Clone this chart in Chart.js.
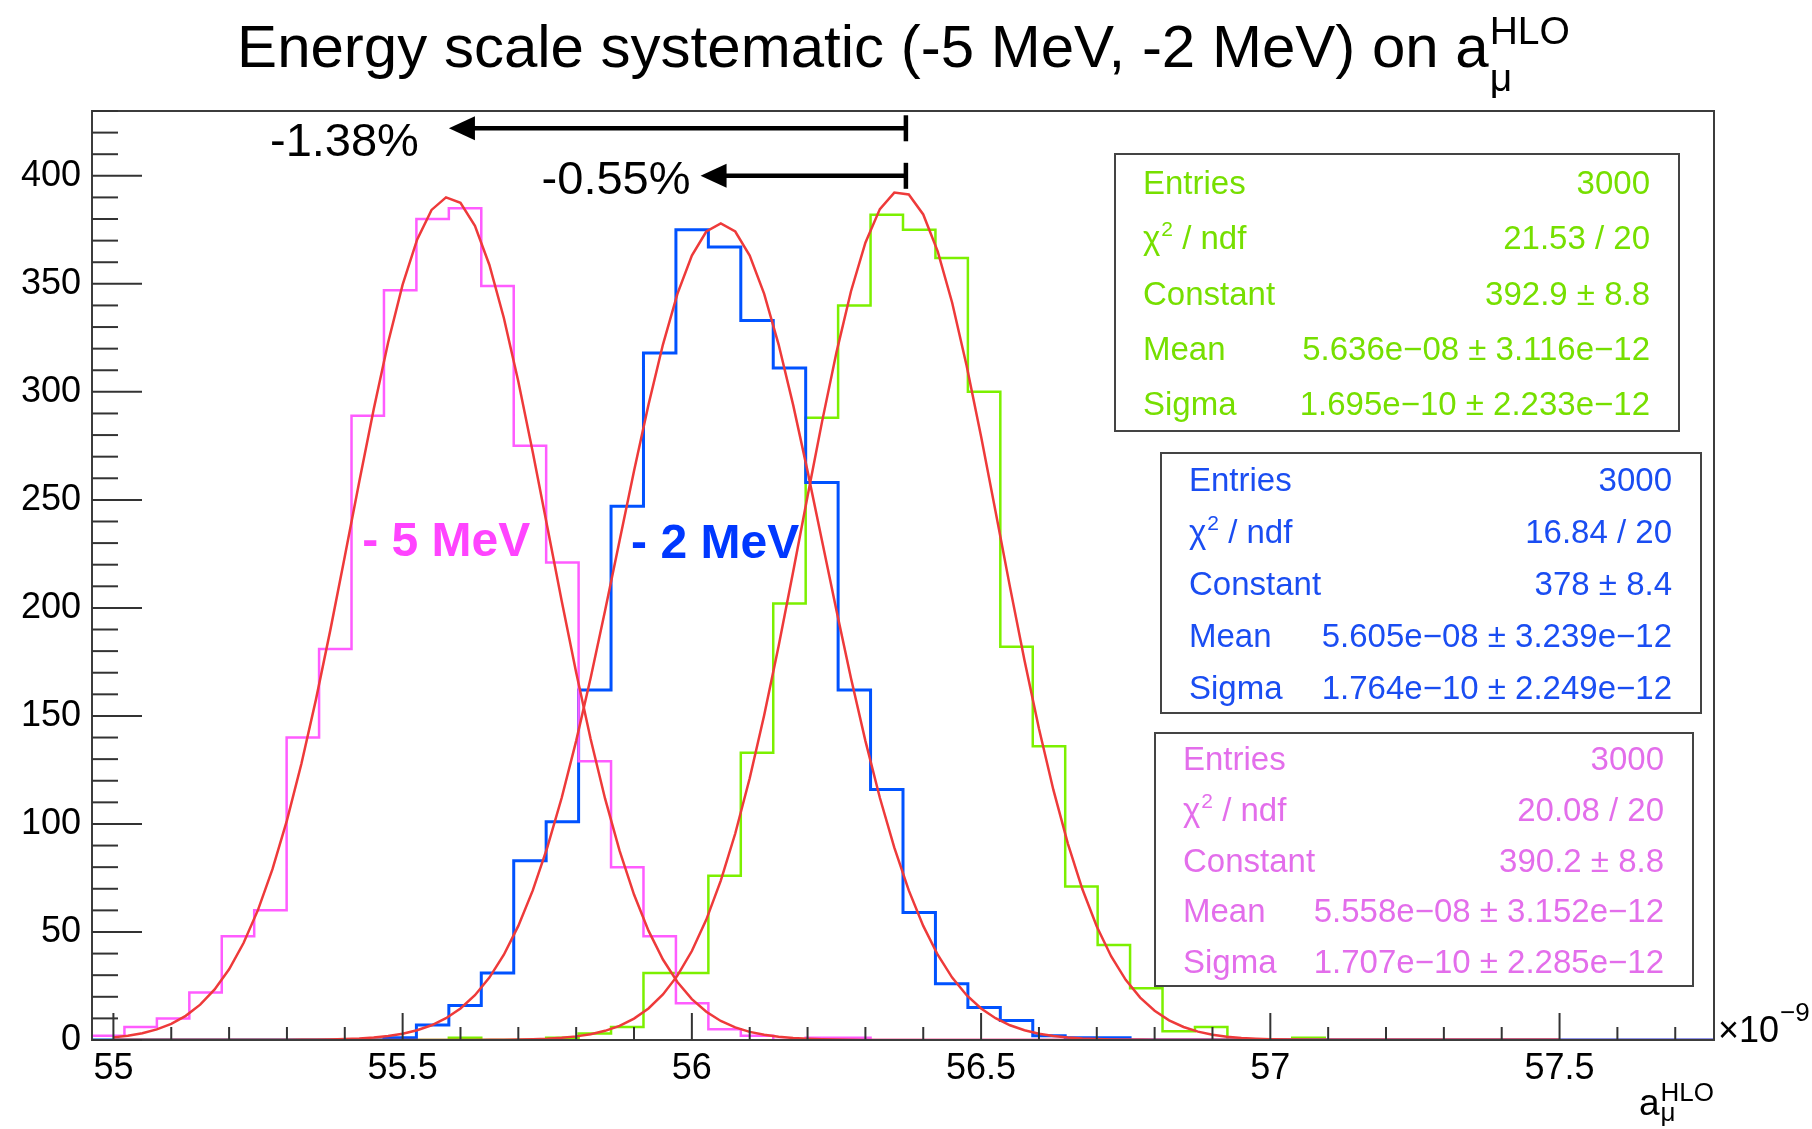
<!DOCTYPE html>
<html lang="en">
<head>
<meta charset="UTF-8">
<title>Energy scale systematic on a_mu HLO</title>
<style>
  html, body { margin: 0; padding: 0; background: #fff; }
  #wrap { width: 1812px; height: 1129px; }
</style>
</head>
<body>
<div id="wrap"><canvas id="chart" width="1812" height="1129"></canvas></div>
<script src="https://cdn.jsdelivr.net/npm/chart.js@4.4.1/dist/chart.umd.min.js"></script>
<script>
// x axis is drawn in units of 10^-9
const UNIT = 1e-9;
const xLow = 54.963, xHigh = 57.767, nBins = 50;
const binWidth = (xHigh - xLow) / nBins;

// bin contents (50 bins each)
const countsNominal = [0,0,0,0,0,0,0,0,0,0, 0,1,0,0,1,3,6,31,31,76, 133,202,288,340,382,375,362,300,182,136, 71,44,24,4,6,0,0,1,0,0, 0,0,0,0,0,0,0,0,0,0];
const countsMinus2  = [0,0,0,0,0,0,0,0,0,1, 7,16,31,83,101,162,247,318,375,367, 333,311,258,162,116,59,26,15,9,2, 1,1,0,0,0,0,0,0,0,0, 0,0,0,0,0,0,0,0,0,0];
const countsMinus5  = [2,6,10,22,48,60,140,181,289,347, 380,385,349,275,221,129,80,48,17,5, 2,0,1,1,0,0,0,0,0,0, 0,0,0,0,0,0,0,0,0,0, 0,0,0,0,0,0,0,0,0,0];

// gaussian fit results: nominal, -2 MeV, -5 MeV
const fitEntries     = [3000, 3000, 3000];
const fitChi2        = [21.53, 16.84, 20.08];
const fitNdf         = [20, 20, 20];
const fitConstant    = [392.9, 378, 390.2];
const fitConstantErr = [8.8, 8.4, 8.8];
const fitMean        = [5.636e-8, 5.605e-8, 5.558e-8];
const fitMeanErr     = [3.116e-12, 3.239e-12, 3.152e-12];
const fitSigma       = [1.695e-10, 1.764e-10, 1.707e-10];
const fitSigmaErr    = [2.233e-12, 2.249e-12, 2.285e-12];
const fitRange       = [55.0, 57.5];

// axis ticks
const xTickLabels = [55, 55.5, 56, 56.5, 57, 57.5];
const yTickLabels = [0, 50, 100, 150, 200, 250, 300, 350, 400];
const yMax = 430;

// shift arrows (from nominal peak to shifted peak)
const shiftLabels = ['-1.38%', '-0.55%'];
const shiftFrom   = [56.37, 56.37];
const shiftTo     = [55.58, 56.015];
const shiftLevel  = [422, 400];

const noteLabels = ['- 5 MeV', '- 2 MeV'];

const FONT = "'Liberation Sans', Arial, Helvetica, sans-serif";
const histColors  = ['#7CF000', '#0052FF', '#FF5CFF'];
const statColors  = ['#76DF00', '#1A4DF2', '#E36EEB'];
const noteColors  = ['#FF44FF', '#0038FF'];
const fitColor = '#EE3A3A';

function histPoints(counts) {
  const pts = counts.map((c, i) => ({ x: xLow + i * binWidth, y: c }));
  pts.push({ x: xHigh, y: counts[counts.length - 1] });
  return pts;
}

function gaussPoints(k) {
  const mu = fitMean[k] / UNIT, s = fitSigma[k] / UNIT, c = fitConstant[k];
  const pts = [];
  for (let i = 0; i <= 100; i++) {
    const x = fitRange[0] + (fitRange[1] - fitRange[0]) * i / 100;
    pts.push({ x: x, y: c * Math.exp(-0.5 * Math.pow((x - mu) / s, 2)) });
  }
  return pts;
}

function sci(v) {
  const parts = v.toExponential(3).split('e');
  const n = parseInt(parts[1], 10);
  return parts[0] + 'e' + (n < 0 ? '\u2212' : '+') + String(Math.abs(n)).padStart(2, '0');
}
function short(v) { return String(Number(v.toPrecision(4))); }

function statRows(k) {
  return [
    ['Entries', String(fitEntries[k])],
    ['chi2', fitChi2[k].toFixed(2) + ' / ' + fitNdf[k]],
    ['Constant', short(fitConstant[k]) + ' \u00b1 ' + short(fitConstantErr[k])],
    ['Mean', sci(fitMean[k]) + ' \u00b1 ' + sci(fitMeanErr[k])],
    ['Sigma', sci(fitSigma[k]) + ' \u00b1 ' + sci(fitSigmaErr[k])]
  ];
}

// stat box frames in canvas pixels: nominal, -2 MeV, -5 MeV
const statBoxes = [
  { l: 1115, t: 154, r: 1679, b: 431 },
  { l: 1161, t: 453, r: 1701, b: 713 },
  { l: 1155, t: 733, r: 1693, b: 986 }
];

function line(ctx, x1, y1, x2, y2) {
  ctx.beginPath(); ctx.moveTo(x1, y1); ctx.lineTo(x2, y2); ctx.stroke();
}

const rootDecor = {
  id: 'rootDecor',
  afterDatasetsDraw(chart) {
    const ctx = chart.ctx, a = chart.chartArea, xs = chart.scales.x, ys = chart.scales.y;
    ctx.save();

    // frame
    ctx.strokeStyle = '#3c3c3c';
    ctx.lineWidth = 2;
    ctx.strokeRect(a.left, a.top, a.right - a.left, a.bottom - a.top);

    // ticks pointing into the frame
    ctx.lineWidth = 2;
    ctx.strokeStyle = '#333';
    for (let v = 0; v <= yMax; v += 10) {
      const py = ys.getPixelForValue(v);
      line(ctx, a.left, py, a.left + (v % 50 === 0 ? 50 : 26), py);
    }
    for (let i = 0; ; i++) {
      const v = 55 + i * 0.1;
      if (v > xHigh) break;
      const px = xs.getPixelForValue(v);
      line(ctx, px, a.bottom, px, a.bottom - (i % 5 === 0 ? 27 : 13));
    }

    // shift arrows
    ctx.strokeStyle = '#000';
    ctx.fillStyle = '#000';
    ctx.lineWidth = 4.5;
    shiftLabels.forEach((lab, i) => {
      const x0 = xs.getPixelForValue(shiftFrom[i]);
      const x1 = xs.getPixelForValue(shiftTo[i]);
      const py = ys.getPixelForValue(shiftLevel[i]);
      line(ctx, x0, py, x1 + 20, py);
      line(ctx, x0, py - 13, x0, py + 13);
      ctx.beginPath();
      ctx.moveTo(x1, py);
      ctx.lineTo(x1 + 26, py - 12);
      ctx.lineTo(x1 + 26, py + 12);
      ctx.closePath();
      ctx.fill();
      ctx.font = '47px ' + FONT;
      ctx.textAlign = 'right';
      ctx.textBaseline = 'alphabetic';
      const gap = i === 0 ? 30 : 10;
      ctx.fillText(lab, x1 - gap, py + (i === 0 ? 28 : 18));
    });

    // curve labels
    ctx.font = 'bold 48px ' + FONT;
    ctx.textAlign = 'left';
    const noteX = [55.43, 55.895], noteY = [224, 223];
    noteLabels.forEach((t, i) => {
      ctx.fillStyle = noteColors[i];
      ctx.fillText(t, xs.getPixelForValue(noteX[i]), ys.getPixelForValue(noteY[i]));
    });

    // fit statistics boxes
    statBoxes.forEach((bx, k) => {
      ctx.fillStyle = '#fff';
      ctx.fillRect(bx.l, bx.t, bx.r - bx.l, bx.b - bx.t);
      ctx.strokeStyle = '#444';
      ctx.lineWidth = 2;
      ctx.strokeRect(bx.l, bx.t, bx.r - bx.l, bx.b - bx.t);
      const rowH = (bx.b - bx.t) / 5;
      ctx.fillStyle = statColors[k];
      statRows(k).forEach((row, r) => {
        const base = bx.t + (r + 0.5) * rowH + 12;
        ctx.textAlign = 'left';
        if (row[0] === 'chi2') {
          ctx.font = '33px ' + FONT;
          ctx.fillText('\u03c7', bx.l + 28, base);
          let w = ctx.measureText('\u03c7').width;
          ctx.font = '21px ' + FONT;
          ctx.fillText('2', bx.l + 28 + w + 1, base - 13);
          w += ctx.measureText('2').width + 1;
          ctx.font = '33px ' + FONT;
          ctx.fillText(' / ndf', bx.l + 28 + w, base);
        } else {
          ctx.font = '33px ' + FONT;
          ctx.fillText(row[0], bx.l + 28, base);
        }
        ctx.font = '33px ' + FONT;
        ctx.textAlign = 'right';
        ctx.fillText(row[1], bx.r - 29, base);
      });
    });
    ctx.restore();
  },
  afterDraw(chart) {
    const ctx = chart.ctx, a = chart.chartArea;
    ctx.save();
    ctx.fillStyle = '#000';
    ctx.textAlign = 'left';
    ctx.textBaseline = 'alphabetic';

    // title with a_mu^HLO
    const main = 'Energy scale systematic (-5 MeV, -2 MeV) on a';
    ctx.font = '60px ' + FONT;
    const mw = ctx.measureText(main).width;
    ctx.font = '39px ' + FONT;
    const sw = ctx.measureText('HLO').width;
    const x0 = 903 - (mw + sw) / 2;
    ctx.font = '60px ' + FONT;
    ctx.fillText(main, x0, 67);
    ctx.font = '39px ' + FONT;
    ctx.fillText('HLO', x0 + mw + 1, 44);
    ctx.fillText('\u03bc', x0 + mw + 1, 91);

    // axis title, right aligned to the frame
    ctx.font = '26px ' + FONT;
    const hw = ctx.measureText('HLO').width;
    ctx.font = '37px ' + FONT;
    const aw = ctx.measureText('a').width;
    const ax = a.right - hw - aw - 1;
    ctx.fillText('a', ax, 1115);
    ctx.font = '26px ' + FONT;
    ctx.fillText('HLO', ax + aw + 1, 1101);
    ctx.fillText('\u03bc', ax + aw + 1, 1121);

    // axis exponent
    ctx.font = '36px ' + FONT;
    ctx.fillText('\u00d710', a.right + 4, a.bottom + 2);
    const ew = ctx.measureText('\u00d710').width;
    ctx.font = '26px ' + FONT;
    ctx.fillText('\u22129', a.right + 4 + ew + 1, a.bottom - 19);
    ctx.restore();
  }
};

const tickFont = { family: FONT, size: 36 };

new Chart(document.getElementById('chart'), {
  type: 'line',
  data: {
    datasets: [
      { data: gaussPoints(0), borderColor: fitColor, borderWidth: 2.5 },
      { data: gaussPoints(1), borderColor: fitColor, borderWidth: 2.5 },
      { data: gaussPoints(2), borderColor: fitColor, borderWidth: 2.5 },
      { data: histPoints(countsMinus5), borderColor: histColors[2], borderWidth: 2.5, stepped: true },
      { data: histPoints(countsMinus2), borderColor: histColors[1], borderWidth: 3, stepped: true },
      { data: histPoints(countsNominal), borderColor: histColors[0], borderWidth: 2.5, stepped: true }
    ]
  },
  options: {
    responsive: false,
    animation: false,
    events: [],
    layout: { padding: { left: 0, top: 111, right: 98, bottom: 0 } },
    elements: { point: { radius: 0 }, line: { tension: 0, fill: false } },
    plugins: { legend: { display: false }, tooltip: { enabled: false }, title: { display: false } },
    scales: {
      x: {
        type: 'linear', min: xLow, max: xHigh,
        grid: { display: false, drawTicks: false },
        border: { display: false },
        afterFit: s => { s.height = 89; },
        afterBuildTicks: s => { s.ticks = xTickLabels.map(v => ({ value: v })); },
        ticks: { padding: 7, color: '#000', font: tickFont, maxRotation: 0, autoSkip: false, callback: v => String(v) }
      },
      y: {
        type: 'linear', min: 0, max: yMax,
        grid: { display: false, drawTicks: false },
        border: { display: false },
        afterFit: s => { s.width = 92; },
        afterBuildTicks: s => { s.ticks = yTickLabels.map(v => ({ value: v })); },
        ticks: { padding: 11, color: '#000', font: tickFont, autoSkip: false, callback: v => String(v) }
      }
    }
  },
  plugins: [rootDecor]
});
</script>
</body>
</html>
